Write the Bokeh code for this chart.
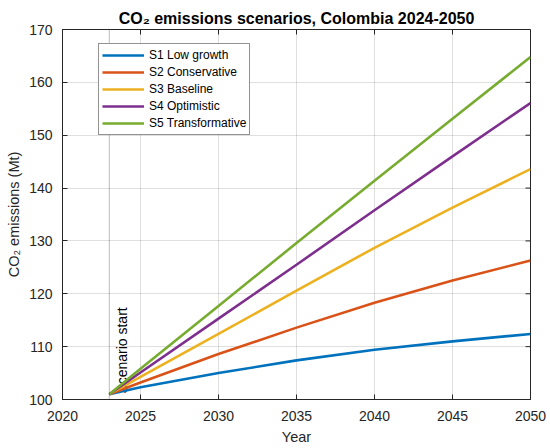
from bokeh.plotting import figure
from bokeh.models import Range1d, Span, Legend, LegendItem, SingleIntervalTicker
from bokeh.core.properties import value
from bokeh.embed import file_html
from bokeh.resources import INLINE

# ---- data ----
years = [2023, 2025, 2030, 2035, 2040, 2045, 2050]
s1_low_growth = [101.0, 102.3, 105.0, 107.4, 109.4, 111.0, 112.4]
s2_conservative = [101.0, 103.2, 108.6, 113.6, 118.3, 122.5, 126.3]
s3_baseline = [101.0, 104.3, 112.4, 120.6, 128.7, 136.3, 143.6]
s4_optimistic = [101.0, 105.1, 115.3, 125.5, 135.8, 146.0, 156.1]
s5_transformative = [101.0, 105.8, 117.7, 129.6, 141.4, 153.1, 164.8]
series_names = ["S1 Low growth", "S2 Conservative", "S3 Baseline", "S4 Optimistic", "S5 Transformative"]
series_colors = ["#0072BD", "#D95319", "#EDB120", "#7E2F8E", "#77AC30"]
x_ticks = [2020, 2025, 2030, 2035, 2040, 2045, 2050]
y_ticks = [100, 110, 120, 130, 140, 150, 160, 170]
scenario_start_year = 2023
scenario_label = "Scenario start"
title_text = "CO\u2082 emissions scenarios, Colombia 2024-2050"
x_label = "Year"
y_label = "CO\u2082 emissions (Mt)"

FONT = "Liberation Sans"
AX = "#262626"
X0, X1 = x_ticks[0], x_ticks[-1]
Y0, Y1 = y_ticks[0], y_ticks[-1]

p = figure(width=550, height=448, output_backend="svg", toolbar_location=None,
           x_range=Range1d(X0, X1), y_range=Range1d(Y0, Y1),
           min_border_left=62, min_border_right=20, min_border_top=29, min_border_bottom=49)

p.title.text = title_text
p.title.align = "center"
p.title.vertical_align = "middle"
p.title.text_font = FONT
p.title.text_font_size = "16px"
p.title.text_font_style = "bold"
p.title.text_color = "#000000"
p.title.offset = 0
p.title.standoff = 4

p.background_fill_color = "white"
p.border_fill_color = "white"
p.outline_line_color = AX
p.outline_line_width = 1

for ax in (p.xaxis[0], p.yaxis[0]):
    ax.major_tick_in = 5
    ax.major_tick_out = 0
    ax.minor_tick_line_color = None
    ax.axis_line_color = AX
    ax.major_tick_line_color = AX
    ax.major_label_text_color = AX
    ax.major_label_text_font = FONT
    ax.major_label_text_font_size = "14px"
    ax.axis_label_text_font = FONT
    ax.axis_label_text_font_size = "14.5px"
    ax.axis_label_text_font_style = "normal"
    ax.axis_label_text_color = AX

p.xaxis[0].ticker = SingleIntervalTicker(interval=5)
p.yaxis[0].ticker = SingleIntervalTicker(interval=10)
p.xaxis[0].axis_label = x_label
p.yaxis[0].axis_label = y_label
p.xaxis[0].major_label_standoff = 7
p.yaxis[0].major_label_standoff = 6
p.xaxis[0].axis_label_standoff = 5
p.yaxis[0].axis_label_standoff = 4

p.xgrid.ticker = p.xaxis[0].ticker
p.ygrid.ticker = p.yaxis[0].ticker
p.grid.grid_line_color = AX
p.grid.grid_line_alpha = 0.15
p.grid.grid_line_width = 1

# inward box ticks on top and right edges (tick length ~5px)
tick_dy = (Y1 - Y0) * 5.0 / 370.0
tick_dx = (X1 - X0) * 5.0 / 468.0
p.segment(x0=x_ticks, x1=x_ticks, y0=[Y1] * len(x_ticks), y1=[Y1 - tick_dy] * len(x_ticks),
          line_color=AX, line_width=1)
p.segment(x0=[X1] * len(y_ticks), x1=[X1 - tick_dx] * len(y_ticks), y0=y_ticks, y1=y_ticks,
          line_color=AX, line_width=1)

# scenario start marker
p.add_layout(Span(location=scenario_start_year, dimension="height", line_color="#404040",
                  line_width=1, line_dash="1 1", line_alpha=0.7))
p.text(x=[scenario_start_year + 0.3], y=[101.1], text=[scenario_label], angle=1.5708,
       text_font=value(FONT), text_font_size="14px", text_color="#000000",
       text_align="left", text_baseline="top")

all_series = [s1_low_growth, s2_conservative, s3_baseline, s4_optimistic, s5_transformative]
items = []
for name, col, ys in zip(series_names, series_colors, all_series):
    r = p.line(years, ys, line_color=col, line_width=2.6)
    items.append(LegendItem(label=name, renderers=[r]))

legend = Legend(items=items, location=(36, 264))
legend.label_text_font = FONT
legend.label_text_font_size = "12px"
legend.label_text_color = "#000000"
legend.glyph_width = 42
legend.glyph_height = 16
legend.label_height = 16
legend.spacing = 1
legend.padding = 3
legend.margin = 0
legend.label_standoff = 5
legend.border_line_color = AX
legend.border_line_width = 1
legend.background_fill_color = "white"
legend.background_fill_alpha = 1
p.add_layout(legend, "center")

open("out.html", "w").write(file_html(p, INLINE))
